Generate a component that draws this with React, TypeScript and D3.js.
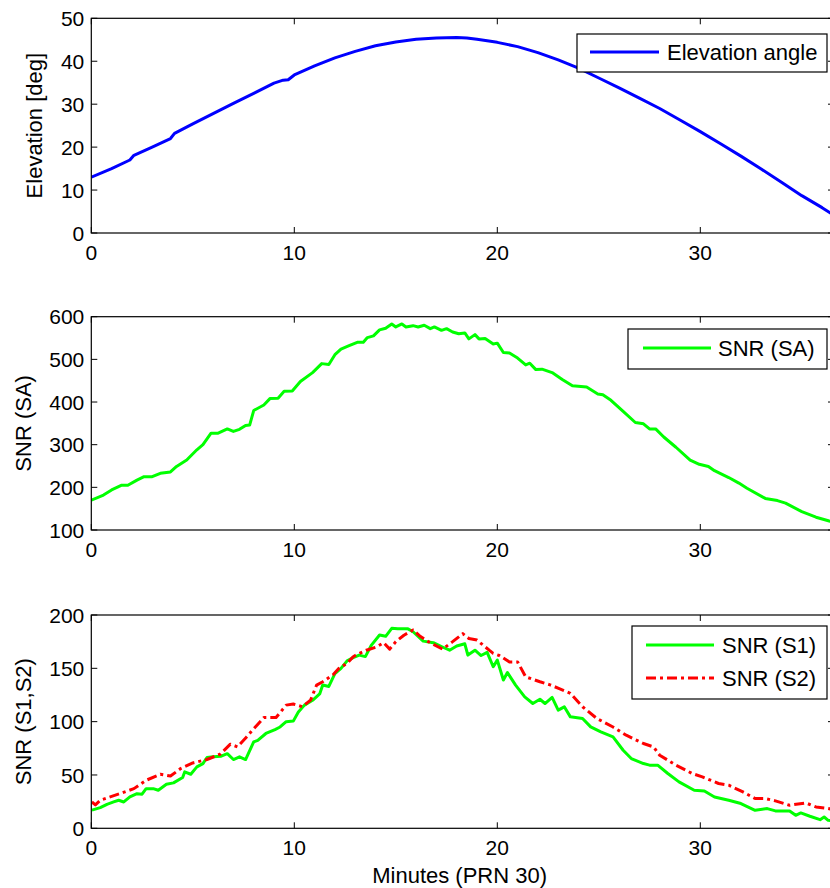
import React from "react";
import * as d3 from "d3";

// ---------- data ----------
const xTicks = [0, 10, 20, 30];
const elevTicks = [0, 10, 20, 30, 40, 50];
const saTicks = [100, 200, 300, 400, 500, 600];
const s12Ticks = [0, 50, 100, 150, 200];

const elevMin = [0, 1, 1.9, 2.1, 3, 3.9, 4.1, 5, 6, 7, 8, 9, 9.45, 9.7, 10, 11, 12, 13, 14, 15, 16, 17, 18, 18.5, 19, 20, 21, 22, 23, 24, 25, 26, 27, 28, 29, 30, 31, 32, 33, 34, 35, 36, 36.6];
const elevVal = [13.0, 15.0, 17.0, 18.1, 20.0, 22.0, 23.2, 25.4, 27.8, 30.2, 32.5, 34.9, 35.6, 35.7, 36.8, 38.9, 40.8, 42.3, 43.6, 44.5, 45.1, 45.4, 45.5, 45.4, 45.1, 44.4, 43.4, 42.0, 40.3, 38.4, 36.1, 33.8, 31.4, 29.0, 26.3, 23.6, 20.8, 17.9, 14.9, 11.8, 8.7, 5.9, 4.1];

const saMin = [0, 0.6, 1.0, 1.5, 1.8, 2.25, 2.6, 3.0, 3.4, 3.9, 4.2, 4.7, 5.2, 5.5, 5.9, 6.25, 6.7, 7.0, 7.3, 7.6, 7.8, 8.0, 8.5, 8.8, 9.2, 9.5, 9.9, 10.3, 10.9, 11.35, 11.7, 12.0, 12.3, 12.7, 13.1, 13.4, 13.6, 13.9, 14.2, 14.5, 14.8, 15.0, 15.3, 15.5, 15.85, 16.1, 16.4, 16.7, 16.9, 17.25, 17.5, 17.8, 18.1, 18.4, 18.6, 18.9, 19.1, 19.4, 19.8, 20.0, 20.3, 20.6, 21.0, 21.4, 21.6, 21.9, 22.2, 22.7, 23.2, 23.7, 24.4, 24.95, 25.2, 25.6, 26.2, 26.8, 27.2, 27.5, 27.8, 28.2, 28.8, 29.5, 29.95, 30.4, 30.7, 31.4, 31.9, 32.3, 33.2, 33.8, 34.2, 35.0, 35.7, 36.35, 36.6];
const saVal = [170, 182, 194, 205, 205, 217, 225, 225, 233, 236, 249, 264, 288, 300, 327, 327, 337, 331, 336, 345, 346, 380, 393, 408, 409, 425, 426, 448, 469, 490, 488, 511, 524, 532, 540, 540, 551, 555, 569, 573, 583, 576, 583, 576, 579, 576, 580, 572, 576, 568, 572, 564, 560, 562, 548, 558, 548, 549, 536, 538, 516, 515, 503, 487, 491, 476, 477, 469, 453, 438, 435, 419, 417, 404, 378, 352, 349, 337, 337, 318, 294, 264, 254, 249, 239, 223, 210, 198, 174, 169, 163, 143, 130, 121, 118];

const s1Min = [0.03, 0.44, 0.77, 1.1, 1.35, 1.6, 1.9, 2.25, 2.5, 2.7, 3.05, 3.3, 3.7, 4.05, 4.5, 4.6, 4.9, 5.2, 5.5, 5.7, 6.0, 6.4, 6.7, 7.0, 7.3, 7.6, 8.0, 8.2, 8.6, 9.05, 9.3, 9.6, 9.95, 10.2, 10.5, 10.9, 11.25, 11.4, 11.7, 12.0, 12.3, 12.6, 12.9, 13.2, 13.5, 13.8, 14.2, 14.5, 14.8, 15.1, 15.6, 15.85, 16.35, 16.85, 17.3, 17.65, 18.0, 18.4, 18.55, 18.9, 19.2, 19.5, 19.8, 20.0, 20.3, 20.5, 20.9, 21.35, 21.75, 22.1, 22.35, 22.7, 23.0, 23.3, 23.6, 24.2, 24.6, 25.1, 25.7, 26.2, 26.6, 27.2, 27.5, 27.9, 28.4, 28.95, 29.7, 30.2, 30.7, 31.4, 32.0, 32.7, 33.3, 33.7, 34.4, 34.7, 34.95, 35.4, 35.9, 36.1, 36.3, 36.6];
const s1Val = [17, 19.4, 22.5, 24.7, 26.3, 24.7, 29.4, 32.5, 32, 37.2, 37.2, 35.7, 41.3, 42.6, 47.6, 52.9, 50.7, 57.6, 60.7, 66.4, 67, 67.6, 70, 64.5, 67, 64.5, 81, 82.5, 88.9, 92.6, 95, 100, 100.5, 109, 115.5, 120, 126, 134.3, 133, 145, 150, 157, 160, 162.4, 161, 171.8, 181.2, 180, 187.5, 187, 187, 184.3, 175.5, 174, 170, 167, 171, 173, 162.4, 167, 162, 165, 151.5, 157.7, 139, 146, 134.3, 123.3, 117, 121, 117, 122.7, 110.8, 113.9, 104.5, 103, 95.1, 90.4, 85.7, 73.2, 65.4, 60.7, 59.2, 59.2, 51.4, 43.5, 35.7, 35, 29.4, 26.3, 23.2, 16.9, 18.5, 16.3, 16.3, 12.2, 14.4, 11.3, 8.1, 10.6, 7.5, 7];

const s2Min = [0.03, 0.2, 0.44, 0.93, 1.4, 2.1, 2.7, 3.4, 3.9, 4.4, 5.0, 5.7, 6.35, 6.85, 7.2, 7.65, 8.5, 9.1, 9.6, 9.95, 10.4, 10.8, 11.1, 11.4, 11.9, 12.2, 12.6, 12.9, 13.2, 13.55, 14.05, 14.4, 14.7, 15.0, 15.4, 15.85, 16.2, 16.6, 17.3, 17.8, 18.3, 18.6, 19.0, 19.6, 19.8, 20.1, 20.6, 21.0, 21.4, 22.1, 22.6, 23.05, 23.6, 24.2, 24.9, 25.7, 26.35, 27.2, 27.7, 28.0, 28.8, 29.6, 30.1, 30.9, 31.4, 32.1, 32.7, 33.2, 33.7, 34.4, 35.2, 35.7, 36.3, 36.6];
const s2Val = [24.7, 22, 26.3, 29.4, 32.5, 37.2, 45, 50.7, 49, 56, 61.3, 64.5, 69.5, 78.9, 76.4, 85.7, 103.9, 103.9, 115.5, 116.5, 114, 120.2, 134.3, 137.4, 143.7, 150, 154.6, 160.9, 164, 167, 170, 174, 168, 175, 181, 186, 180, 175, 168, 175, 182.5, 178, 176.5, 167, 164, 162, 156, 156, 142, 137.4, 134.5, 131, 126.5, 114, 103, 95, 87.3, 79.5, 76.3, 68.5, 59.2, 51.4, 48.2, 42, 40.4, 34.1, 27.9, 27.9, 25.7, 21.6, 23.8, 20, 18.5, 17.5];

// ---------- layout ----------
const W = 830;
const H = 888;
const X0 = 91.3;
const X1 = 834;
const XMAX = (X1 - X0) / 20.3;
const FONT = '"Liberation Sans", Arial, Helvetica, sans-serif';
const FS_TICK = 21;
const FS_LABEL = 22;

const x = d3.scaleLinear().domain([0, XMAX]).range([X0, X1]);

type Series = { xs: number[]; ys: number[]; color: string; dash?: string; label: string };

function Panel(props: {
  id: string;
  top: number;
  bottom: number;
  domain: [number, number];
  ticks: number[];
  series: Series[];
  ylabel: string;
  ylabelX: number;
  legend: { x0: number; y0: number; x1: number; y1: number; lx0: number; lx1: number; tx: number; rows: number[] };
}) {
  const { top, bottom, domain, ticks, series, ylabel, ylabelX, legend, id } = props;
  const y = d3.scaleLinear().domain(domain).range([bottom, top]);
  const TL = 6;
  return (
    <g>
      <defs>
        <clipPath id={id}>
          <rect x={X0} y={top} width={X1 - X0} height={bottom - top} />
        </clipPath>
      </defs>
      <g clipPath={`url(#${id})`}>
        {series.map((s, i) => {
          const pts = s.xs.map((v, k) => [v, s.ys[k]] as [number, number]);
          const path = d3
            .line<[number, number]>()
            .x((d) => x(d[0]))
            .y((d) => y(d[1]))(pts) as string;
          return (
            <path key={i} d={path} fill="none" stroke={s.color} strokeWidth={3} strokeDasharray={s.dash} strokeLinejoin="round" />
          );
        })}
      </g>
      <rect x={X0} y={top} width={X1 - X0} height={bottom - top} fill="none" stroke="#000" strokeWidth={1.2} />
      {xTicks.map((t) => (
        <g key={"xt" + t}>
          <line x1={x(t)} x2={x(t)} y1={bottom} y2={bottom - TL} stroke="#000" strokeWidth={1} />
          <line x1={x(t)} x2={x(t)} y1={top} y2={top + TL} stroke="#000" strokeWidth={1} />
          <text x={x(t)} y={bottom + 27} textAnchor="middle" fontSize={FS_TICK} fontFamily={FONT} fill="#000">
            {t}
          </text>
        </g>
      ))}
      {ticks.map((t) => (
        <g key={"yt" + t}>
          <line x1={X0} x2={X0 + TL} y1={y(t)} y2={y(t)} stroke="#000" strokeWidth={1} />
          <line x1={X1} x2={X1 - TL} y1={y(t)} y2={y(t)} stroke="#000" strokeWidth={1} />
          <text x={X0 - 7} y={y(t)} dy="0.36em" textAnchor="end" fontSize={FS_TICK} fontFamily={FONT} fill="#000">
            {t}
          </text>
        </g>
      ))}
      <text
        transform={`translate(${ylabelX},${(top + bottom) / 2}) rotate(-90)`}
        textAnchor="middle"
        fontSize={FS_LABEL}
        fontFamily={FONT}
        fill="#000"
      >
        {ylabel}
      </text>
      <rect x={legend.x0} y={legend.y0} width={legend.x1 - legend.x0} height={legend.y1 - legend.y0} fill="#fff" stroke="#000" strokeWidth={1.2} />
      {series.map((s, i) => (
        <g key={"lg" + i}>
          <line x1={legend.lx0} x2={legend.lx1} y1={legend.rows[i]} y2={legend.rows[i]} stroke={s.color} strokeWidth={3} strokeDasharray={s.dash} />
          <text x={legend.tx} y={legend.rows[i]} dy="0.36em" fontSize={FS_LABEL} fontFamily={FONT} fill="#000">
            {s.label}
          </text>
        </g>
      ))}
    </g>
  );
}

export default function App() {
  return (
    <svg width={W} height={H} style={{ position: "absolute", left: 0, top: 0, background: "#fff" }}>
      <rect x={0} y={0} width={W} height={H} fill="#fff" />
      <Panel
        id="c1"
        top={18.3}
        bottom={233}
        domain={[0, 50]}
        ticks={elevTicks}
        series={[{ xs: elevMin, ys: elevVal, color: "#0000ff", label: "Elevation angle" }]}
        ylabel="Elevation [deg]"
        ylabelX={42}
        legend={{ x0: 577, y0: 34, x1: 827, y1: 72, lx0: 590, lx1: 659, tx: 667, rows: [52] }}
      />
      <Panel
        id="c2"
        top={316.7}
        bottom={530}
        domain={[100, 600]}
        ticks={saTicks}
        series={[{ xs: saMin, ys: saVal, color: "#00ff00", label: "SNR (SA)" }]}
        ylabel="SNR (SA)"
        ylabelX={31}
        legend={{ x0: 628, y0: 329, x1: 827, y1: 369, lx0: 643, lx1: 711, tx: 718, rows: [348] }}
      />
      <Panel
        id="c3"
        top={615}
        bottom={828.3}
        domain={[0, 200]}
        ticks={s12Ticks}
        series={[
          { xs: s1Min, ys: s1Val, color: "#00ff00", label: "SNR (S1)" },
          { xs: s2Min, ys: s2Val, color: "#ff0000", dash: "10,4,3,4", label: "SNR (S2)" },
        ]}
        ylabel="SNR (S1,S2)"
        ylabelX={31}
        legend={{ x0: 632, y0: 626, x1: 827, y1: 699, lx0: 646, lx1: 714, tx: 722, rows: [645, 678] }}
      />
      <text x={(X0 + 828) / 2} y={883} textAnchor="middle" fontSize={FS_LABEL} fontFamily={FONT} fill="#000">
        Minutes (PRN 30)
      </text>
    </svg>
  );
}
